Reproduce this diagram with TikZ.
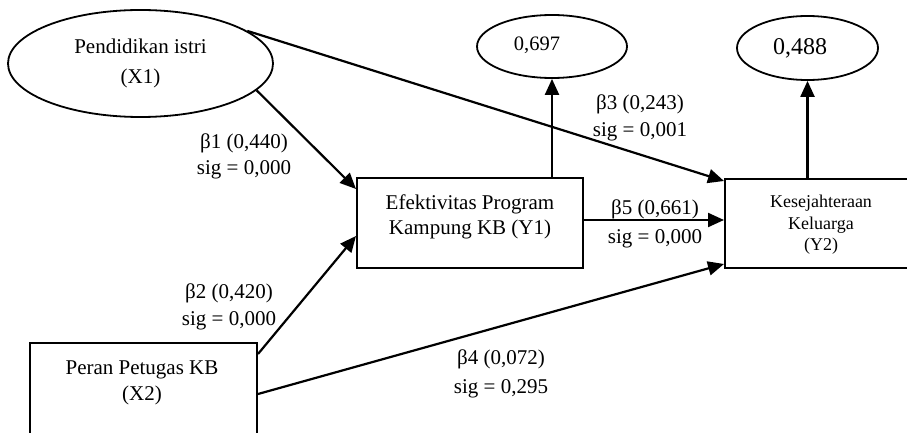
\documentclass[tikz,border=0pt]{standalone}
\usepackage{fontspec}
\setmainfont{Liberation Serif}
\usetikzlibrary{arrows.meta,shapes.geometric,calc}
\tikzset{
  box/.style={draw, line width=2pt, rectangle, inner sep=0pt},
  oval/.style={draw, line width=1.8pt, ellipse, inner sep=0pt},
  txt/.style={align=center, inner sep=0pt},
  lab/.style={align=center, inner sep=0pt},
  arr/.style={line width=2.2pt, -{Triangle[length=16pt,width=14pt]}},
}
\begin{document}
\begin{tikzpicture}[x=1pt,y=-1pt]
\useasboundingbox (0,0) rectangle (907,433);
\clip (0,0) rectangle (907,433);
% nodes
\node[oval, minimum width=265pt, minimum height=107pt, txt, font=\fontsize{21}{30}\selectfont] (X1) at (140.5,63.5) {Pendidikan istri\\(X1)};
\node[box, minimum width=226pt, minimum height=90pt] (Y1) at (470,223) {};
\node[txt, font=\fontsize{21}{25}\selectfont] (Y1t) at (470,217) {Efektivitas Program\\Kampung KB (Y1)};
\node[box, minimum width=227pt, minimum height=130pt] (X2) at (143.5,408) {};
\node[txt, font=\fontsize{21}{26}\selectfont] (X2t) at (142,383) {Peran Petugas KB\\(X2)};
\node[box, minimum width=192pt, minimum height=89pt] (Y2) at (821,223.5) {};
\node[txt, font=\fontsize{18}{21.5}\selectfont] (Y2t) at (821,225) {Kesejahteraan\\Keluarga\\(Y2)};
\node[oval, minimum width=150pt, minimum height=63pt] (E1) at (552,46.5) {};
\node[txt, font=\fontsize{20.5}{24}\selectfont] (E1t) at (537,45) {0,697};
\node[oval, minimum width=141pt, minimum height=64pt] (E2) at (807.5,48) {};
\node[txt, font=\fontsize{24}{28}\selectfont] (E2t) at (800,48) {0,488};
% labels
\node[lab, font=\fontsize{21}{26}\selectfont] (L1) at (244,156) {β1 (0,440)\\sig = 0,000};
\node[lab, font=\fontsize{21}{27}\selectfont] (L2) at (229,306.5) {β2 (0,420)\\sig = 0,000};
\node[lab, font=\fontsize{21}{27}\selectfont] (L3) at (640,117.5) {β3 (0,243)\\sig = 0,001};
\node[lab, font=\fontsize{21}{29}\selectfont] (L5) at (655,223.5) {β5 (0,661)\\sig = 0,000};
\node[lab, font=\fontsize{21}{29}\selectfont] (L4) at (501,373.5) {β4 (0,072)\\sig = 0,295};
% connectors
\draw[arr] (X1.17) -- ($(Y2.north west)+(0,3)$);
\draw[arr] (X1.-13) -- ($(Y1.north west)+(0,12)$);
\draw[arr] ($(X2.north east)+(0,12)$) -- ($(Y1.north west)+(0,59)$);
\draw[arr] ($(X2.north east)+(0,52)$) -- ($(Y2.south west)+(0,-5)$);
\draw[arr] ($(Y1.east)+(0,-3)$) -- ($(Y2.west)+(0,-3.5)$);
\draw[arr] (E1.south |- Y1.north) -- (E1.south);
\draw[arr] (E2.south |- Y2.north) -- (E2.south);
\end{tikzpicture}
\end{document}
